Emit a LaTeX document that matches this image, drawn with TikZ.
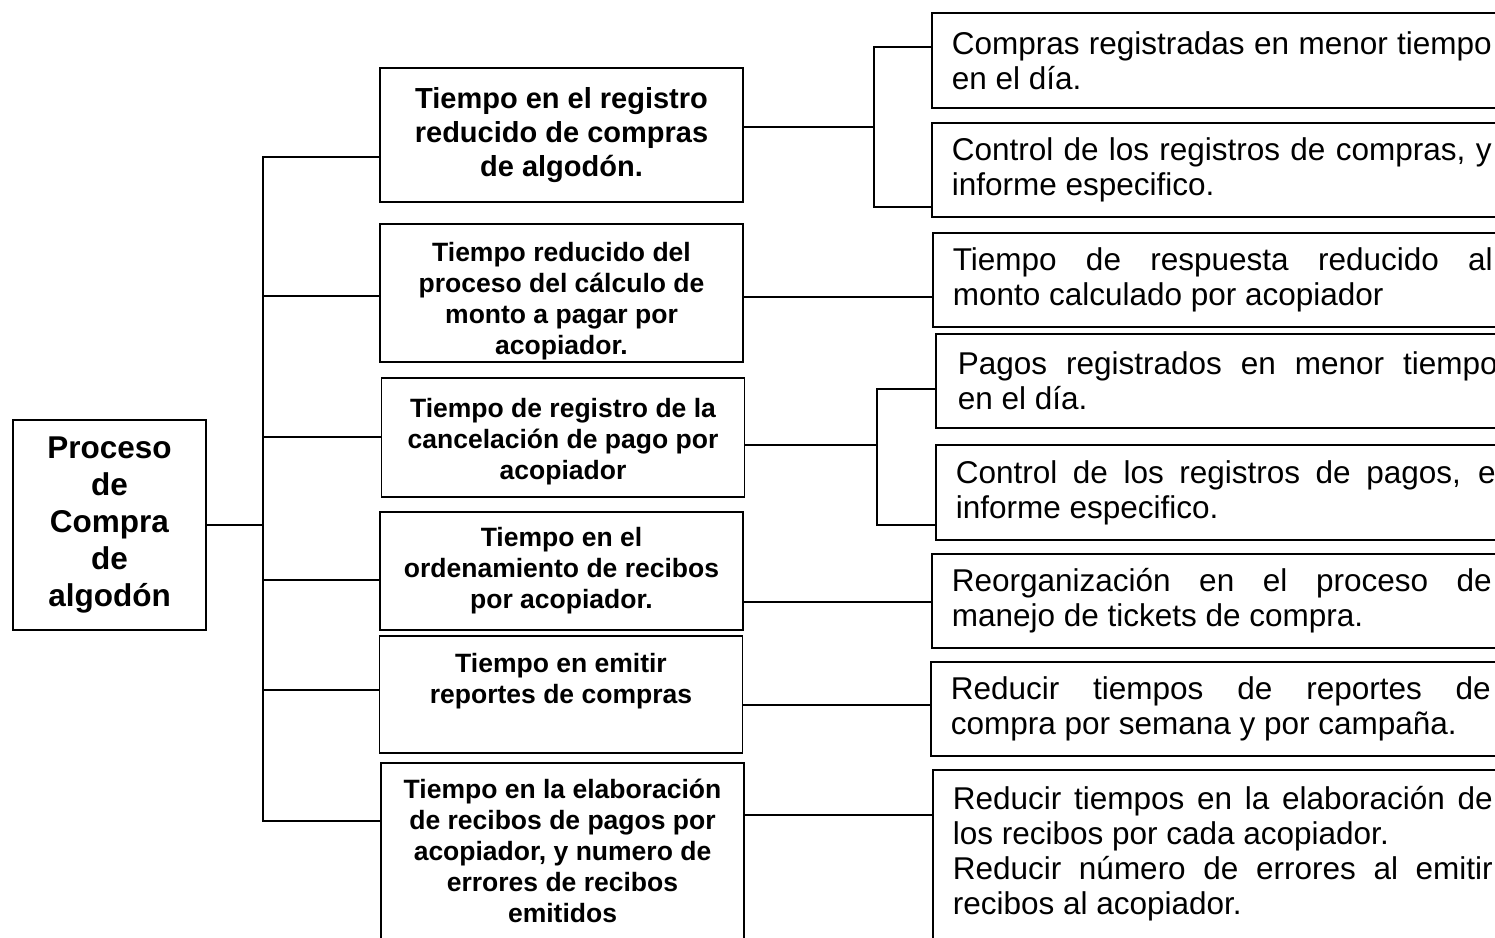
\documentclass[tikz,border=0pt]{standalone}
\usepackage{fontspec}
\setmainfont{Liberation Sans}
\usepackage{tikz}

\begin{document}
\begin{tikzpicture}[x=1pt, y=-1pt,
    caja/.style={draw, line width=1.6pt},
    raiz/.style={caja, font=\bfseries\fontsize{31.5}{37}\selectfont, align=center, minimum width=193pt, minimum height=210pt},
    medio/.style={caja, font=\bfseries\fontsize{26.5}{31}\selectfont, align=center, minimum width=363pt, inner sep=0pt},
    detalle/.style={caja, anchor=west, font=\fontsize{31.5}{35}\selectfont, text width=540pt, align=justify, inner xsep=20pt, inner ysep=0pt},
    linea/.style={line width=1.6pt}]
    \path[use as bounding box, clip] (0, 0) rectangle (1495, 937);

    \node[raiz] (proceso) at (109.5, 525) {Proceso\\de\\Compra\\de\\algodón};

    \node[medio, minimum height=134pt, font=\bfseries\fontsize{29}{34}\selectfont] (m1) at (561.5, 135) {Tiempo en el registro\\reducido de compras\\de algodón.};
    \node[medio, minimum height=138pt] (m2) at (561.5, 293) {\rule{0pt}{36pt}Tiempo reducido del\\proceso del cálculo de\\monto a pagar por\\acopiador.};
    \node[medio, minimum height=119pt] (m3) at (563, 437.5) {\rule{0pt}{28pt}Tiempo de registro de la\\cancelación de pago por\\acopiador};
    \node[medio, minimum height=118pt] (m4) at (561.5, 571) {Tiempo en el\\ordenamiento de recibos\\por acopiador.};
    \node[medio, minimum height=117pt] (m5) at (561, 694.5) {\rule{0pt}{28pt}Tiempo en emitir\\reportes de compras\\\strut};
    \node[medio, minimum height=176pt] (m6) at (562.5, 851) {Tiempo en la elaboración\\de recibos de pagos por\\acopiador, y numero de\\errores de recibos\\emitidos};

    \node[detalle, minimum height=95pt] (r1) at (931, 60.5) {Compras registradas en menor tiempo\linebreak en el día.};
    \node[detalle, minimum height=94pt] (r2) at (931, 170) {Control de los registros de compras, y\linebreak informe especifico.};
    \node[detalle, minimum height=94pt] (r3) at (932, 280) {Tiempo de respuesta reducido al\linebreak monto calculado por acopiador};
    \node[detalle, minimum height=94pt, inner xsep=22pt] (r4) at (935, 381) {Pagos registrados en menor tiempo\linebreak en el día.};
    \node[detalle, minimum height=95pt] (r5) at (935, 492.5) {Control de los registros de pagos, e\linebreak informe especifico.};
    \node[detalle, minimum height=94pt] (r6) at (931, 601) {Reorganización en el proceso de\linebreak manejo de tickets de compra.};
    \node[detalle, minimum height=94pt] (r7) at (930, 709) {Reducir tiempos de reportes de\linebreak compra por semana y por campaña.};
    \node[detalle, minimum height=196pt] (r8) at (932, 868) {Reducir tiempos en la elaboración de\linebreak los recibos por cada acopiador.\par Reducir número de errores al emitir\linebreak recibos al acopiador.\par\mbox{}};

    \coordinate (t1) at (263, 157);
    \coordinate (t2) at (263, 296);
    \coordinate (t3) at (263, 437);
    \coordinate (t4) at (263, 580);
    \coordinate (t5) at (263, 690);
    \coordinate (t6) at (263, 821);
    \draw[linea] (proceso.east) -- (proceso.east -| t1);
    \draw[linea] (t1 -| m1.west) -- (t1) -- (t6) -- (t6 -| m6.west);
    \draw[linea] (t2) -- (t2 -| m2.west);
    \draw[linea] (t3) -- (t3 -| m3.west);
    \draw[linea] (t4) -- (t4 -| m4.west);
    \draw[linea] (t5) -- (t5 -| m5.west);

    \coordinate (a1) at (874, 47);
    \coordinate (a2) at (874, 127);
    \coordinate (a3) at (874, 207);
    \draw[linea] (a1 -| r1.west) -- (a1) -- (a3) -- (a3 -| r2.west);
    \draw[linea] (a2 -| m1.east) -- (a2);

    \coordinate (j2) at (840, 297);
    \draw[linea] (j2 -| m2.east) -- (j2 -| r3.west);

    \coordinate (b1) at (877, 389);
    \coordinate (b2) at (877, 445);
    \coordinate (b3) at (877, 525);
    \draw[linea] (b1 -| r4.west) -- (b1) -- (b3) -- (b3 -| r5.west);
    \draw[linea] (b2 -| m3.east) -- (b2);

    \coordinate (j4) at (840, 602);
    \draw[linea] (j4 -| m4.east) -- (j4 -| r6.west);
    \coordinate (j5) at (840, 705);
    \draw[linea] (j5 -| m5.east) -- (j5 -| r7.west);
    \coordinate (j6) at (840, 815);
    \draw[linea] (j6 -| m6.east) -- (j6 -| r8.west);
\end{tikzpicture}
\end{document}
